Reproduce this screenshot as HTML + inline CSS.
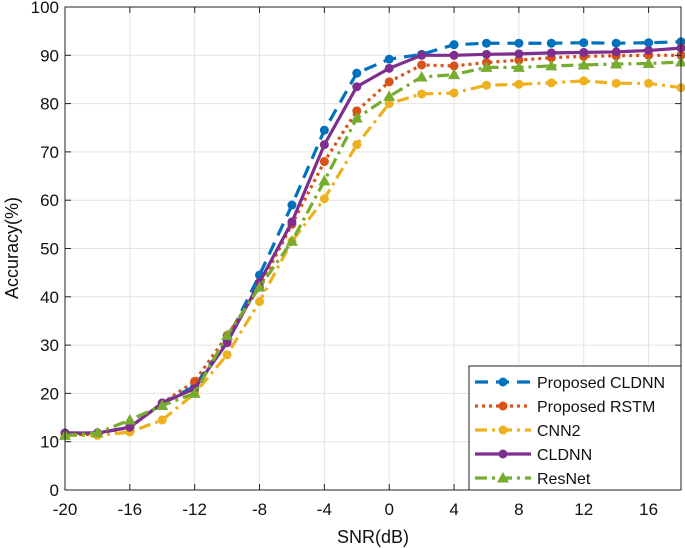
<!DOCTYPE html>
<html><head><meta charset="utf-8"><style>
body{margin:0;background:#fff;}
svg{display:block;font-family:"Liberation Sans",Arial,sans-serif;}
</style></head><body>
<svg id="chart" width="685" height="548"></svg>
<script>
const snr=[-20,-18,-16,-14,-12,-10,-8,-6,-4,-2,0,2,4,6,8,10,12,14,16,18];
const propCldnn=[11.8,11.8,13,18,21.5,31,44.5,59,74.5,86.3,89.2,90.2,92.2,92.5,92.5,92.5,92.6,92.5,92.6,92.8];
const propRstm=[11.5,11.5,13,18,22.5,32,42,55,68,78.5,84.5,88,87.8,88.5,89,89.5,89.8,89.9,90,90];
const cnn2=[11.3,11.3,12,14.5,20,28,39,51.5,60.3,71.5,80,82,82.2,83.8,84,84.3,84.7,84.2,84.2,83.3];
const cldnn=[11.8,11.8,13,18,21,30.5,43,55.5,71.5,83.5,87.3,90,90,90.2,90.3,90.5,90.6,90.7,91,91.5];
const resnet=[11.3,11.8,14.5,17.5,20,32,42,51.5,64,77,81.5,85.5,86,87.5,87.5,87.8,88,88.2,88.3,88.6];
const seriesNames=["Proposed CLDNN","Proposed RSTM","CNN2","CLDNN","ResNet"];
const xTicks=[-20,-16,-12,-8,-4,0,4,8,12,16];
const yTicks=[0,10,20,30,40,50,60,70,80,90,100];

const NS="http://www.w3.org/2000/svg";
const svg=document.getElementById("chart");
const L=65,R=681,T=7,B=490;
const xs=v=>L+(v+20)/38*(R-L);
const ys=v=>B-v/100*(B-T);
function mk(tag,attrs,parent){const e=document.createElementNS(NS,tag);for(const k in attrs)e.setAttribute(k,attrs[k]);(parent||svg).appendChild(e);return e;}

const grid=mk("g",{});


xTicks.forEach(t=>{mk("line",{x1:xs(t),x2:xs(t),y1:T,y2:B,stroke:"#e3e3e3","stroke-width":1},grid);});
yTicks.forEach(t=>{mk("line",{x1:L,x2:R,y1:ys(t),y2:ys(t),stroke:"#e3e3e3","stroke-width":1},grid);});

const styles=[
 {c:"#0072BD",d:"13,8",m:"circle",data:propCldnn},
 {c:"#D95319",d:"3,4",m:"circle",data:propRstm},
 {c:"#EDB120",d:"12,5,3,5",m:"circle",data:cnn2},
 {c:"#7E2F8E",d:"",m:"circle",data:cldnn},
 {c:"#77AC30",d:"12,5,3,5",m:"tri",data:resnet}
];
function marker(g,m,x,y,c,r){
 if(m==="tri"){mk("polygon",{points:`${x},${y-6} ${x-6},${y+4.5} ${x+6},${y+4.5}`,fill:c},g);}
 else mk("circle",{cx:x,cy:y,r:r||4.5,fill:c},g);
}
const lineKeys=['series-proposed-cldnn','series-proposed-rstm','series-cnn2','series-cldnn','series-resnet'];
styles.forEach((s,i)=>{
 const g=mk("g",{});
 
 
 const pts=snr.map((x,j)=>xs(x)+","+ys(s.data[j])).join(" ");
 mk("polyline",{points:pts,fill:"none",stroke:s.c,"stroke-width":3.2,"stroke-dasharray":s.d},g);
 snr.forEach((x,j)=>marker(g,s.m,xs(x),ys(s.data[j]),s.c));
});

const ax=mk("g",{});


mk("rect",{x:L,y:T,width:R-L,height:B-T,fill:"none",stroke:"#222","stroke-width":1},ax);
xTicks.forEach(t=>{
 mk("line",{x1:xs(t),x2:xs(t),y1:B,y2:B-6,stroke:"#222"},ax);
 mk("line",{x1:xs(t),x2:xs(t),y1:T,y2:T+6,stroke:"#222"},ax);
 const tx=mk("text",{x:xs(t),y:B+25,"text-anchor":"middle","font-size":17,fill:"#111"},ax);tx.textContent=t;
 
 
});
yTicks.forEach(t=>{
 mk("line",{x1:L,x2:L+6,y1:ys(t),y2:ys(t),stroke:"#222"},ax);
 mk("line",{x1:R,x2:R-6,y1:ys(t),y2:ys(t),stroke:"#222"},ax);
 const tx=mk("text",{x:L-6,y:ys(t)+6,"text-anchor":"end","font-size":17,fill:"#111"},ax);tx.textContent=t;
 
 
});
const xt=mk("text",{x:373,y:543,"text-anchor":"middle","font-size":18,fill:"#111"});xt.textContent="SNR(dB)";


const yt=mk("text",{x:0,y:0,"text-anchor":"middle","font-size":18,fill:"#111",transform:"translate(18,248) rotate(-90)"});yt.textContent="Accuracy(%)";



const lg=mk("g",{});


mk("rect",{x:469,y:366,width:212,height:124,fill:"#fff",stroke:"#222","stroke-width":1},lg);
styles.forEach((s,i)=>{
 const y=382+i*24;
 const e=mk("g",{},lg);
 
 
 mk("line",{x1:475,x2:531,y1:y,y2:y,stroke:s.c,"stroke-width":3.2,"stroke-dasharray":s.d},e);
 marker(e,s.m,503,y,s.c);
 const tx=mk("text",{x:537,y:y+6,"font-size":16,fill:"#111"},e);tx.textContent=seriesNames[i];
});
</script>
</body></html>
